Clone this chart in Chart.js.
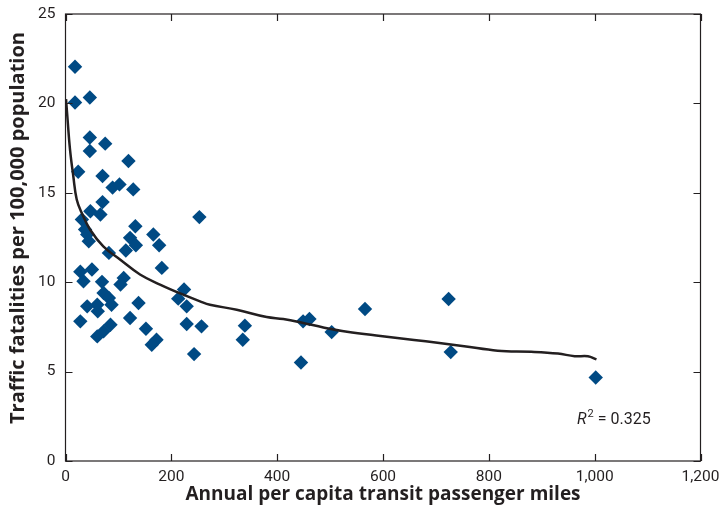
<!DOCTYPE html>
<html>
<head>
<meta charset="utf-8">
<script src="https://cdn.jsdelivr.net/npm/chart.js@4"></script>
<style>
  html, body { margin: 0; padding: 0; background: #fff; }
  #wrap { width: 719px; height: 514px; }
</style>
</head>
<body>
<div id="wrap"><canvas id="chart"></canvas></div>
<script>
// annual per capita transit passenger miles (x) and traffic fatalities per 100k (y)
const transitMiles = [18, 18, 46, 46, 75, 46, 119, 24, 70, 89, 102, 128, 70, 47, 66, 31, 37, 41, 44, 82,
  132, 122, 133, 114, 166, 177, 253, 182, 28, 50, 34, 69, 110, 104, 72, 82, 87, 41, 60, 61,
  138, 28, 122, 85, 72, 60, 224, 213, 229, 229, 257, 152, 172, 163, 243, 339, 335, 449, 461, 503,
  445, 566, 724, 728, 1002];
const fatalities = [22.05, 20.05, 20.33, 18.09, 17.75, 17.34, 16.78, 16.18, 15.94, 15.29, 15.47, 15.19, 14.48, 13.97, 13.79, 13.51, 12.95, 12.67, 12.29, 11.64,
  13.13, 12.48, 12.07, 11.77, 12.67, 12.07, 13.64, 10.8, 10.59, 10.71, 10.05, 10.02, 10.24, 9.87, 9.4, 9.12, 8.74, 8.65, 8.74, 8.37,
  8.84, 7.81, 8.0, 7.62, 7.25, 6.97, 9.59, 9.08, 8.65, 7.66, 7.53, 7.4, 6.78, 6.5, 5.98, 7.57, 6.78, 7.81, 7.94, 7.21,
  5.51, 8.5, 9.06, 6.09, 4.67];

// fitted curve
const fitMiles = [1, 3.4, 8.5, 14.7, 21.2, 30.6, 46.3, 71.4, 103, 140.8, 178.6, 222.6, 254.2, 273, 323.5, 380.2, 411.6, 449.4, 487.2, 532,
  595.3, 658.6, 702.8, 753.4, 816.7, 880, 930.6, 962.2, 987.3, 1003.4];
const fitRate = [20.24, 19.3, 17.43, 15.94, 14.63, 13.88, 12.95, 12.01, 11.27, 10.43, 9.87, 9.3, 8.93, 8.74, 8.46, 8.05, 7.94, 7.72, 7.47, 7.23,
  6.99, 6.77, 6.61, 6.42, 6.17, 6.11, 6.01, 5.86, 5.86, 5.68];

const xTicks = [0, 200, 400, 600, 800, 1000, 1200];
const yTicks = [0, 5, 10, 15, 20, 25];

const ink = '#231f20';
const bodyFamily = "Roboto, 'Open Sans', sans-serif";
const tickFont = { family: bodyFamily, size: 15.5 };
const titleFont = { family: "'Open Sans', sans-serif", size: 19, weight: 'bold' };

// box around the plot with inward tick marks on all four sides, plus the y title
const framePlugin = {
  id: 'frame',
  afterDatasetsDraw(chart) {
    const { ctx, chartArea: a, scales } = chart;
    ctx.save();
    ctx.strokeStyle = ink;
    ctx.lineWidth = 1.2;
    ctx.strokeRect(a.left, a.top, a.right - a.left, a.bottom - a.top);
    ctx.beginPath();
    xTicks.forEach(v => {
      const px = Math.round(scales.x.getPixelForValue(v)) + 0.5;
      ctx.moveTo(px, a.bottom); ctx.lineTo(px, a.bottom - 7);
      ctx.moveTo(px, a.top); ctx.lineTo(px, a.top + 7);
    });
    yTicks.forEach(v => {
      const py = Math.round(scales.y.getPixelForValue(v)) + 0.5;
      ctx.moveTo(a.left, py); ctx.lineTo(a.left + 7, py);
      ctx.moveTo(a.right, py); ctx.lineTo(a.right - 7, py);
    });
    ctx.stroke();

    ctx.fillStyle = ink;
    // y axis title
    ctx.save();
    ctx.translate(18, 228);
    ctx.rotate(-Math.PI / 2);
    ctx.font = "bold 20px 'Open Sans', sans-serif";
    ctx.textAlign = 'center';
    ctx.textBaseline = 'middle';
    ctx.fillText('Traffic fatalities per 100,000 population', 0, 0);
    ctx.restore();

    // R² note
    ctx.textBaseline = 'alphabetic';
    let x = 577, y = 424;
    ctx.font = "italic 16px " + bodyFamily;
    ctx.fillText('R', x, y);
    x += ctx.measureText('R').width + 1;
    ctx.font = "11px " + bodyFamily;
    ctx.fillText('2', x, y - 7);
    x += ctx.measureText('2').width;
    ctx.font = "16px " + bodyFamily;
    ctx.fillText(' = 0.325', x, y);
    ctx.restore();
  }
};

new Chart(document.getElementById('chart'), {
  type: 'scatter',
  data: {
    datasets: [
      {
        label: 'Fit',
        data: fitMiles.map((x, i) => ({ x, y: fitRate[i] })),
        showLine: true,
        borderColor: ink,
        borderWidth: 2.5,
        pointRadius: 0,
        tension: 0.4,
        order: 0
      },
      {
        label: 'Cities',
        data: transitMiles.map((x, i) => ({ x, y: fatalities[i] })),
        pointStyle: 'rectRot',
        pointRadius: 7.2,
        pointHoverRadius: 7.2,
        backgroundColor: '#004a84',
        borderColor: '#004a84',
        borderWidth: 0,
        order: 1
      }
    ]
  },
  options: {
    responsive: true,
    maintainAspectRatio: false,
    animation: false,
    layout: { padding: { top: 14, right: 18.5, left: 0, bottom: 0 } },
    plugins: { legend: { display: false }, tooltip: { enabled: false } },
    scales: {
      x: {
        type: 'linear',
        min: 0, max: 1200,
        afterBuildTicks: s => { s.ticks = xTicks.map(v => ({ value: v })); },
        afterFit: s => { s.height = 53; s.paddingLeft = 0; s.paddingRight = 0; },
        grid: { display: false, drawTicks: false },
        border: { display: false },
        ticks: {
          autoSkip: false, maxRotation: 0, padding: 7,
          color: ink, font: tickFont,
          callback: v => v.toLocaleString('en-US')
        },
        title: {
          display: true, text: 'Annual per capita transit passenger miles',
          color: ink, font: titleFont, padding: { top: 0, bottom: 8 }
        }
      },
      y: {
        type: 'linear',
        min: 0, max: 25,
        afterBuildTicks: s => { s.ticks = yTicks.map(v => ({ value: v })); },
        afterFit: s => { s.width = 65.5; s.paddingTop = 0; s.paddingBottom = 0; },
        grid: { display: false, drawTicks: false },
        border: { display: false },
        ticks: { autoSkip: false, padding: 10, color: ink, font: tickFont }
      }
    }
  },
  plugins: [framePlugin]
});
</script>
</body>
</html>
